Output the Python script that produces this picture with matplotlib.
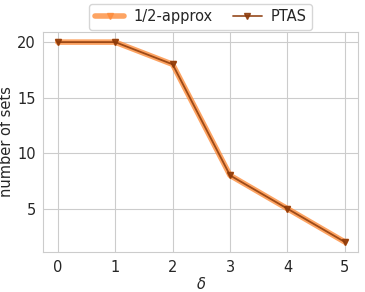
import matplotlib
matplotlib.use("Agg")
import matplotlib.pyplot as plt
import seaborn as sns

sns.set_style("whitegrid")
plt.rcParams['font.family'] = ['DejaVu Sans']

delta = [0, 1, 2, 3, 4, 5]
approx = [20, 20, 18, 8, 5, 2]
ptas = [20, 20, 18, 8, 5, 2]

fig = plt.figure(figsize=(3.65, 2.92), dpi=100)
ax = fig.add_axes([0.119, 0.137, 0.862, 0.753])
ax.plot(delta, approx, color='#fd8d3c', alpha=0.8, linewidth=4, marker='v', markersize=4, label='1/2-approx')
ax.plot(delta, ptas, color='#8c3a0a', alpha=0.85, linewidth=1.3, marker='v', markersize=5, label='PTAS')
ax.set_xlabel(r'$\delta$', fontsize=10.5, labelpad=1)
ax.set_ylabel('number of sets', fontsize=10.5, labelpad=2)
ax.set_xticks(delta)
ax.set_yticks([5, 10, 15, 20])
ax.tick_params(labelsize=10.5, pad=2)
ax.set_xlim(-0.25, 5.23)
ax.set_ylim(1.1, 20.9)
ax.legend(loc='lower center', bbox_to_anchor=(0.5, 0.995), ncol=2, fontsize=10.5, frameon=True,
          columnspacing=1.4, handlelength=2.0, handletextpad=0.6, borderaxespad=0.2)
fig.savefig('out.png', dpi=100)
